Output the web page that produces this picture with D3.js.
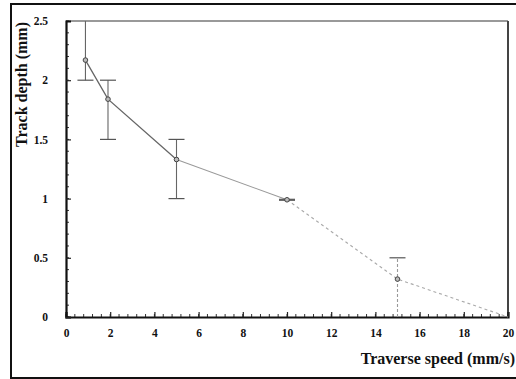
<!DOCTYPE html>
<html><head><meta charset="utf-8">
<script src="https://cdn.jsdelivr.net/npm/d3@7"></script>
<style>body{margin:0;background:#fff}svg{display:block}</style>
</head><body>
<svg id="c" width="516" height="379"></svg>
<script>
const speed = [0.88, 1.9, 5, 10, 15, 20];
const depth = [2.17, 1.84, 1.33, 0.99, 0.32, 0];
const errLow = [2.0, 1.5, 1.0, 0.986, 0.0, 0];
const errHigh = [2.5, 2.0, 1.5, 0.994, 0.5, 0];
const xTicks = [0, 2, 4, 6, 8, 10, 12, 14, 16, 18, 20];
const yTicks = [0, 0.5, 1, 1.5, 2, 2.5];
const xTitle = "Traverse speed (mm/s)";
const yTitle = "Track depth (mm)";

const svg = d3.select("#c");
const L = 66, R = 508, T = 21, B = 317;
const x = d3.scaleLinear().domain([0, 20]).range([L, R]);
const y = d3.scaleLinear().domain([0, 2.5]).range([B, T]);
const font = "'Liberation Serif','Times New Roman',serif";

// outer frame
svg.append("rect").attr("x", 11).attr("y", 4).attr("width", 520).attr("height", 374)
  .attr("fill", "none").attr("stroke", "#111").attr("stroke-width", 2);

// plot frame top/right
svg.append("line").attr("x1", x(0)).attr("x2", x(20)).attr("y1", y(2.5)).attr("y2", y(2.5))
  .attr("stroke", "#777").attr("stroke-width", 1.5);
svg.append("line").attr("x1", x(20)).attr("x2", x(20)).attr("y1", y(2.5)).attr("y2", y(0))
  .attr("stroke", "#444").attr("stroke-width", 2);

// minor ticks
const xMinor = d3.range(0, 20.001, 0.4);
const yMinor = d3.range(0, 2.5001, 0.1);
svg.append("g").selectAll("line").data(xMinor).join("line")
  .attr("x1", d => x(d)).attr("x2", d => x(d)).attr("y1", y(0)).attr("y2", y(0) - 3)
  .attr("stroke", "#333").attr("stroke-width", 1);
svg.append("g").selectAll("line").data(yMinor).join("line")
  .attr("y1", d => y(d)).attr("y2", d => y(d)).attr("x1", x(0)).attr("x2", x(0) + 3)
  .attr("stroke", "#333").attr("stroke-width", 1);

// axes
const xAxis = d3.axisBottom(x).tickValues(xTicks).tickSize(-5).tickPadding(10).tickFormat(d3.format("d"));
const yAxis = d3.axisLeft(y).tickValues(yTicks).tickSize(-5).tickPadding(18).tickFormat(d => d);
const gx = svg.append("g").attr("transform", `translate(0,${B})`).call(xAxis);
const gy = svg.append("g").attr("transform", `translate(${L},0)`).call(yAxis);
[gx, gy].forEach(g => {
  g.select(".domain").attr("stroke", "#111").attr("stroke-width", 2.2);
  g.selectAll(".tick line").attr("stroke", "#222").attr("stroke-width", 1.2);
  g.selectAll("text").attr("font-family", font).attr("font-weight", "bold")
    .attr("font-size", 11.5).attr("fill", "#111");
});
gx.selectAll("text").attr("dy", "0.85em");
gy.select(".tick:last-of-type line").remove();

// connecting line
const pts = speed.map((s, i) => [s, depth[i]]);
const line = d3.line().x(d => x(d[0])).y(d => y(d[1]));
svg.append("path").attr("d", line(pts.slice(0, 3))).attr("fill", "none")
  .attr("stroke", "#666").attr("stroke-width", 1.3);
svg.append("path").attr("d", line(pts.slice(2, 4))).attr("fill", "none")
  .attr("stroke", "#999").attr("stroke-width", 1.1);
svg.append("path").attr("d", line(pts.slice(3))).attr("fill", "none")
  .attr("stroke", "#aaa").attr("stroke-width", 1.1).attr("stroke-dasharray", "3,3");

// error bars
const eb = svg.append("g");
speed.forEach((s, i) => {
  if (errHigh[i] - errLow[i] <= 0) return;
  const c = i >= 3 ? "#999" : "#666";
  eb.append("line").attr("x1", x(s)).attr("x2", x(s)).attr("y1", y(errLow[i])).attr("y2", y(errHigh[i]))
    .attr("stroke", c).attr("stroke-width", 1.1).attr("stroke-dasharray", i >= 4 ? "3,2" : null);
  [errLow[i], errHigh[i]].forEach(v => {
    if (v <= 0 || v >= 2.5) return;
    eb.append("line").attr("x1", x(s) - 8).attr("x2", x(s) + 8).attr("y1", y(v)).attr("y2", y(v))
      .attr("stroke", "#555").attr("stroke-width", 1.2);
  });
});

// markers
svg.append("g").selectAll("circle").data(pts.slice(0, 5)).join("circle")
  .attr("cx", d => x(d[0])).attr("cy", d => y(d[1])).attr("r", 2.3)
  .attr("fill", "#bbb").attr("stroke", "#444").attr("stroke-width", 1);

// titles
svg.append("text").attr("x", 515).attr("y", 364).attr("text-anchor", "end")
  .attr("font-family", font).attr("font-weight", "bold").attr("font-size", 16)
  .attr("fill", "#111").text(xTitle);
svg.append("text").attr("transform", "translate(27,147) rotate(-90)")
  .attr("font-family", font).attr("font-weight", "bold").attr("font-size", 16)
  .attr("fill", "#111").text(yTitle);
</script>
</body></html>
